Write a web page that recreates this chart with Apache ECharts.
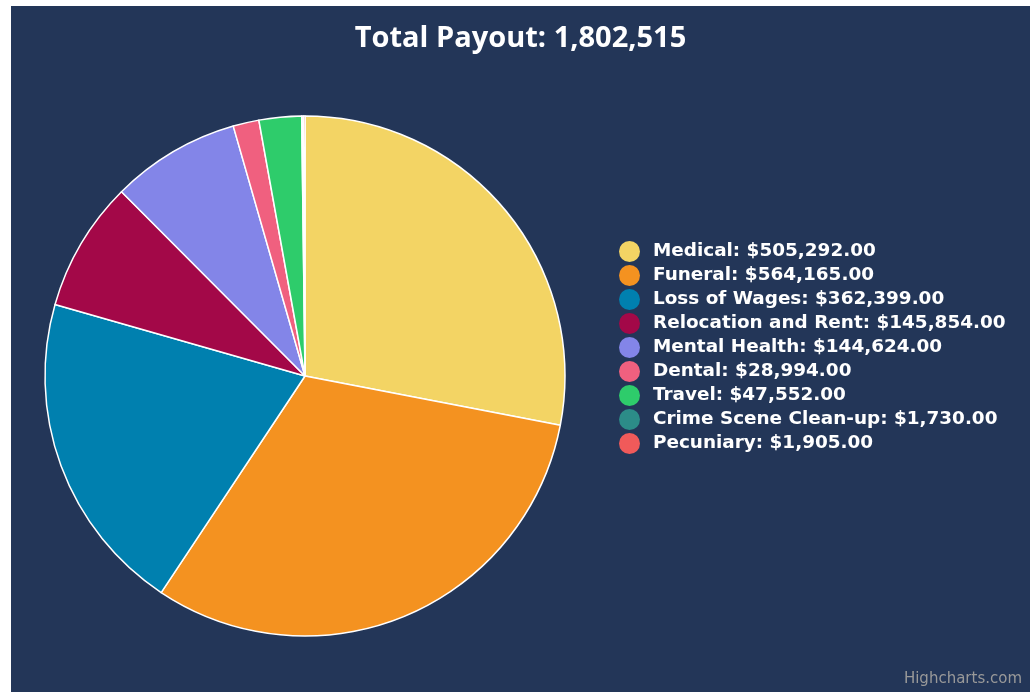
<!DOCTYPE html>
<html>
<head>
<meta charset="utf-8">
<script src="https://cdn.jsdelivr.net/npm/echarts@6/dist/echarts.min.js"></script>
<style>
html,body{margin:0;padding:0;background:#ffffff;width:1030px;height:692px;overflow:hidden;}
#chart{position:absolute;left:11px;top:6px;width:1019px;height:686px;}
</style>
</head>
<body>
<div id="chart"></div>
<script>
const categories = ["Medical","Funeral","Loss of Wages","Relocation and Rent","Mental Health","Dental","Travel","Crime Scene Clean-up","Pecuniary"];
const values = [505292,564165,362399,145854,144624,28994,47552,1730,1905];
const colors = ["#f3d464","#f49220","#0080af","#a30848","#8385e8","#f0607f","#2ecc6b","#2c8c88","#f05a5a"];
const titleText = "Total Payout: 1,802,515";

function money(v){
  return "$" + v.toLocaleString("en-US",{minimumFractionDigits:2,maximumFractionDigits:2});
}
const valueByName = {};
categories.forEach((c,i)=>valueByName[c]=values[i]);

const chart = echarts.init(document.getElementById('chart'));
chart.setOption({
  backgroundColor:'#233658',
  animation:false,
  title:{
    text:titleText,
    left:'center',
    top:13,
    padding:[5,0,5,18],
    textStyle:{color:'#ffffff',fontSize:29,fontWeight:'bold',fontFamily:'Open Sans'}
  },
  legend:{
    orient:'vertical',
    left:608,
    top:235,
    padding:0,
    icon:'circle',
    itemWidth:21,
    itemHeight:21,
    itemGap:3,
    data:categories,
    itemStyle:{borderWidth:0},
    formatter:function(name){return name + ": " + money(valueByName[name]);},
    textStyle:{color:'#ffffff',fontSize:18.4,lineHeight:21,fontWeight:'bold',fontFamily:'DejaVu Sans',padding:[0,0,0,8]}
  },
  graphic:[{
    type:'text',
    right:8,
    bottom:5,
    style:{text:'Highcharts.com',fill:'#999999',fontSize:15,fontFamily:'DejaVu Sans'}
  }],
  series:[{
    type:'pie',
    center:[294,370],
    radius:260,
    startAngle:90,
    clockwise:true,
    label:{show:false},
    labelLine:{show:false},
    itemStyle:{borderColor:'#ffffff',borderWidth:1.5},
    data:categories.map((c,i)=>({name:c,value:values[i],itemStyle:{color:colors[i]}}))
  }]
});
</script>
</body>
</html>
